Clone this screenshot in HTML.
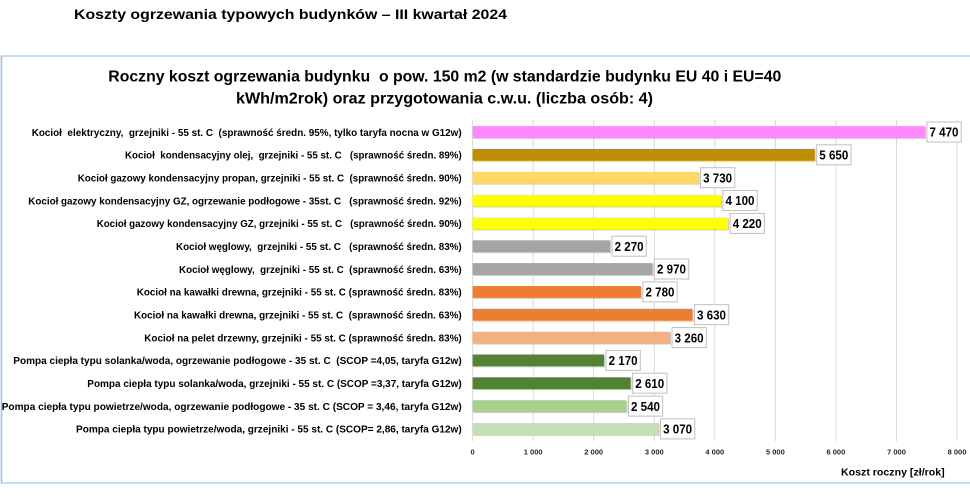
<!DOCTYPE html>
<html><head><meta charset="utf-8"><style>
html,body{margin:0;padding:0;background:#fff;}
svg{display:block;}
text{font-family:"Liberation Sans",Arial,sans-serif;white-space:pre;}
.lb{font-size:10.5px;font-weight:bold;fill:#000;}
.vl{font-size:13px;font-weight:bold;fill:#000;}
.tk{font-size:7.5px;font-weight:bold;fill:#262626;}
</style></head><body>
<svg width="970" height="497" viewBox="0 0 970 497" xmlns="http://www.w3.org/2000/svg">
<rect width="970" height="497" fill="#fff"/>
<text x="74" y="19" font-size="14" font-weight="bold" textLength="433" lengthAdjust="spacingAndGlyphs">Koszty ogrzewania typowych budynków – III kwartał 2024</text>
<!-- chart box -->
<path d="M972 56 H1.5 V483 H972" fill="none" stroke="#b4d2ec" stroke-width="1.5"/>
<line x1="1.5" y1="56" x2="1.5" y2="483" stroke="#9dc3e6" stroke-width="1.5"/>
<text x="108.3" y="81.5" font-size="16" font-weight="bold" textLength="673" lengthAdjust="spacingAndGlyphs">Roczny koszt ogrzewania budynku  o pow. 150 m2 (w standardzie budynku EU 40 i EU=40</text>
<text x="236" y="103.5" font-size="16" font-weight="bold" textLength="417" lengthAdjust="spacingAndGlyphs">kWh/m2rok) oraz przygotowania c.w.u. (liczba osób: 4)</text>
<!-- gridlines -->
<g stroke="#d9d9d9" stroke-width="1">
<line x1="472.6" y1="120" x2="472.6" y2="441"/>
<line x1="533.2" y1="120" x2="533.2" y2="441"/>
<line x1="593.7" y1="120" x2="593.7" y2="441"/>
<line x1="654.3" y1="120" x2="654.3" y2="441"/>
<line x1="714.8" y1="120" x2="714.8" y2="441"/>
<line x1="775.4" y1="120" x2="775.4" y2="441"/>
<line x1="835.9" y1="120" x2="835.9" y2="441"/>
<line x1="896.5" y1="120" x2="896.5" y2="441"/>
<line x1="957.0" y1="120" x2="957.0" y2="441"/>
</g>
<!-- tick labels -->
<g class="tk" text-anchor="middle">
<text x="472.6" y="454.5">0</text>
<text x="533.2" y="454.5">1 000</text>
<text x="593.7" y="454.5">2 000</text>
<text x="654.3" y="454.5">3 000</text>
<text x="714.8" y="454.5">4 000</text>
<text x="775.4" y="454.5">5 000</text>
<text x="835.9" y="454.5">6 000</text>
<text x="896.5" y="454.5">7 000</text>
<text x="957.0" y="454.5">8 000</text>
</g>
<text x="841" y="475.5" font-size="10.5" font-weight="bold" textLength="103.7" lengthAdjust="spacingAndGlyphs">Koszt roczny [zł/rok]</text>
<!-- category labels -->
<g class="lb" text-anchor="end">
<text x="461.7" y="135.8" textLength="430" lengthAdjust="spacingAndGlyphs">Kocioł  elektryczny,  grzejniki - 55 st. C  (sprawność średn. 95%, tylko taryfa nocna w G12w)</text>
<text x="461.7" y="158.6" textLength="336.7" lengthAdjust="spacingAndGlyphs">Kocioł  kondensacyjny olej,  grzejniki - 55 st. C   (sprawność średn. 89%)</text>
<text x="461.7" y="181.5" textLength="384" lengthAdjust="spacingAndGlyphs">Kocioł gazowy kondensacyjny propan, grzejniki - 55 st. C  (sprawność średn. 90%)</text>
<text x="461.7" y="204.3" textLength="433.4" lengthAdjust="spacingAndGlyphs">Kocioł gazowy kondensacyjny GZ, ogrzewanie podłogowe - 35st. C   (sprawność średn. 92%)</text>
<text x="461.7" y="227.2" textLength="365" lengthAdjust="spacingAndGlyphs">Kocioł gazowy kondensacyjny GZ, grzejniki - 55 st. C   (sprawność średn. 90%)</text>
<text x="461.7" y="250.0" textLength="285.7" lengthAdjust="spacingAndGlyphs">Kocioł węglowy,  grzejniki - 55 st. C   (sprawność średn. 83%)</text>
<text x="461.7" y="272.8" textLength="282.7" lengthAdjust="spacingAndGlyphs">Kocioł węglowy,  grzejniki - 55 st. C  (sprawność średn. 63%)</text>
<text x="461.7" y="295.7" textLength="325" lengthAdjust="spacingAndGlyphs">Kocioł na kawałki drewna, grzejniki - 55 st. C (sprawność średn. 83%)</text>
<text x="461.7" y="318.5" textLength="327.7" lengthAdjust="spacingAndGlyphs">Kocioł na kawałki drewna, grzejniki - 55 st. C  (sprawność średn. 63%)</text>
<text x="461.7" y="341.4" textLength="317.4" lengthAdjust="spacingAndGlyphs">Kocioł na pelet drzewny, grzejniki - 55 st. C (sprawność średn. 83%)</text>
<text x="461.7" y="364.2" textLength="448.4" lengthAdjust="spacingAndGlyphs">Pompa ciepła typu solanka/woda, ogrzewanie podłogowe - 35 st. C  (SCOP =4,05, taryfa G12w)</text>
<text x="461.7" y="387.0" textLength="374.4" lengthAdjust="spacingAndGlyphs">Pompa ciepła typu solanka/woda, grzejniki - 55 st. C (SCOP =3,37, taryfa G12w)</text>
<text x="461.7" y="409.9" textLength="460" lengthAdjust="spacingAndGlyphs">Pompa ciepła typu powietrze/woda, ogrzewanie podłogowe - 35 st. C (SCOP = 3,46, taryfa G12w)</text>
<text x="461.7" y="432.7" textLength="385.7" lengthAdjust="spacingAndGlyphs">Pompa ciepła typu powietrze/woda, grzejniki - 55 st. C (SCOP= 2,86, taryfa G12w)</text>
</g>
<!-- bars: shadows -->
<g fill="#8c8c8c" opacity="0.45">
<rect x="473.6" y="127.1" width="452.3" height="11.8"/>
<rect x="473.6" y="149.9" width="342.1" height="11.8"/>
<rect x="473.6" y="172.8" width="225.9" height="11.8"/>
<rect x="473.6" y="195.6" width="248.3" height="11.8"/>
<rect x="473.6" y="218.5" width="255.5" height="11.8"/>
<rect x="473.6" y="241.3" width="137.4" height="11.8"/>
<rect x="473.6" y="264.1" width="179.8" height="11.8"/>
<rect x="473.6" y="287.0" width="168.3" height="11.8"/>
<rect x="473.6" y="309.8" width="219.8" height="11.8"/>
<rect x="473.6" y="332.7" width="197.4" height="11.8"/>
<rect x="473.6" y="355.5" width="131.4" height="11.8"/>
<rect x="473.6" y="378.3" width="158.0" height="11.8"/>
<rect x="473.6" y="401.2" width="153.8" height="11.8"/>
<rect x="473.6" y="424.0" width="185.9" height="11.8"/>
</g>
<!-- bars -->
<rect x="472.6" y="126.1" width="452.3" height="11.8" fill="#ff88ff"/>
<rect x="472.6" y="148.9" width="342.1" height="11.8" fill="#bf8f00"/>
<rect x="472.6" y="171.8" width="225.9" height="11.8" fill="#ffd966"/>
<rect x="472.6" y="194.6" width="248.3" height="11.8" fill="#ffff00"/>
<rect x="472.6" y="217.5" width="255.5" height="11.8" fill="#ffff00"/>
<rect x="472.6" y="240.3" width="137.4" height="11.8" fill="#a5a5a5"/>
<rect x="472.6" y="263.1" width="179.8" height="11.8" fill="#a5a5a5"/>
<rect x="472.6" y="286.0" width="168.3" height="11.8" fill="#ed7d31"/>
<rect x="472.6" y="308.8" width="219.8" height="11.8" fill="#ed7d31"/>
<rect x="472.6" y="331.7" width="197.4" height="11.8" fill="#f4b183"/>
<rect x="472.6" y="354.5" width="131.4" height="11.8" fill="#548235"/>
<rect x="472.6" y="377.3" width="158.0" height="11.8" fill="#548235"/>
<rect x="472.6" y="400.2" width="153.8" height="11.8" fill="#a9d18e"/>
<rect x="472.6" y="423.0" width="185.9" height="11.8" fill="#c5e0b4"/>
<!-- value boxes -->
<g fill="#fff" stroke="#bfbfbf" stroke-width="1">
<rect x="926.9" y="122.0" width="34.3" height="20"/>
<rect x="816.7" y="144.8" width="34.3" height="20"/>
<rect x="700.5" y="167.7" width="34.3" height="20"/>
<rect x="722.9" y="190.5" width="34.3" height="20"/>
<rect x="730.1" y="213.4" width="34.3" height="20"/>
<rect x="612.0" y="236.2" width="34.3" height="20"/>
<rect x="654.4" y="259.0" width="34.3" height="20"/>
<rect x="642.9" y="281.9" width="34.3" height="20"/>
<rect x="694.4" y="304.7" width="34.3" height="20"/>
<rect x="672.0" y="327.6" width="34.3" height="20"/>
<rect x="606.0" y="350.4" width="34.3" height="20"/>
<rect x="632.6" y="373.2" width="34.3" height="20"/>
<rect x="628.4" y="396.1" width="34.3" height="20"/>
<rect x="660.5" y="418.9" width="34.3" height="20"/>
</g>
<g class="vl">
<text x="929.5" y="136.7" textLength="29" lengthAdjust="spacingAndGlyphs">7 470</text>
<text x="819.3" y="159.5" textLength="29" lengthAdjust="spacingAndGlyphs">5 650</text>
<text x="703.1" y="182.4" textLength="29" lengthAdjust="spacingAndGlyphs">3 730</text>
<text x="725.5" y="205.2" textLength="29" lengthAdjust="spacingAndGlyphs">4 100</text>
<text x="732.7" y="228.1" textLength="29" lengthAdjust="spacingAndGlyphs">4 220</text>
<text x="614.6" y="250.9" textLength="29" lengthAdjust="spacingAndGlyphs">2 270</text>
<text x="657.0" y="273.7" textLength="29" lengthAdjust="spacingAndGlyphs">2 970</text>
<text x="645.5" y="296.6" textLength="29" lengthAdjust="spacingAndGlyphs">2 780</text>
<text x="697.0" y="319.4" textLength="29" lengthAdjust="spacingAndGlyphs">3 630</text>
<text x="674.6" y="342.3" textLength="29" lengthAdjust="spacingAndGlyphs">3 260</text>
<text x="608.6" y="365.1" textLength="29" lengthAdjust="spacingAndGlyphs">2 170</text>
<text x="635.2" y="387.9" textLength="29" lengthAdjust="spacingAndGlyphs">2 610</text>
<text x="631.0" y="410.8" textLength="29" lengthAdjust="spacingAndGlyphs">2 540</text>
<text x="663.1" y="433.6" textLength="29" lengthAdjust="spacingAndGlyphs">3 070</text>
</g>
</svg>
</body></html>
